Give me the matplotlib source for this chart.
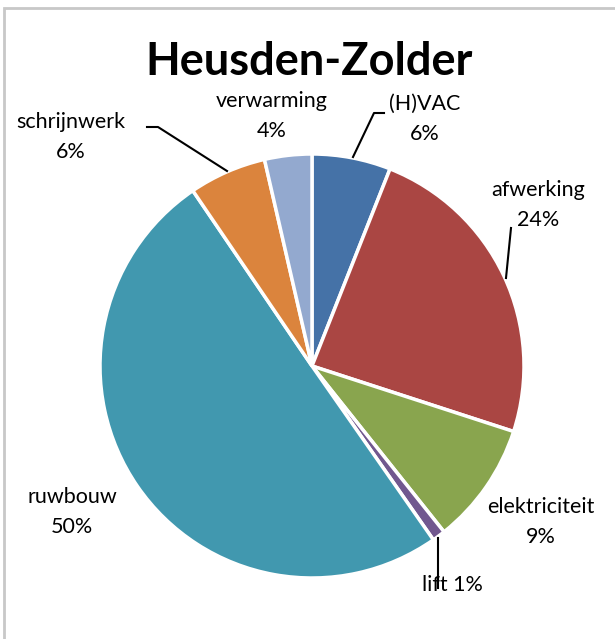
import matplotlib.pyplot as plt
from matplotlib.patches import Rectangle

plt.rcParams['font.family'] = ['Lato', 'DejaVu Sans']

# slices, clockwise from 12 o'clock
categories = ['(H)VAC', 'afwerking', 'elektriciteit', 'lift', 'ruwbouw', 'schrijnwerk', 'verwarming']
values = [6.0, 24.0, 9.3, 1.0, 50.2, 5.9, 3.6]
pct_labels = ['6%', '24%', '9%', '1%', '50%', '6%', '4%']
colors = ['#4572A7', '#AA4643', '#89A54E', '#71588F', '#4198AF', '#DB843D', '#93A9CF']

W, H = 615, 639
fig = plt.figure(figsize=(W / 100, H / 100), dpi=100)
ax = fig.add_axes([0, 0, 1, 1])


def py(y):
    # pixel row from top -> data y
    return H - y


# chart frame (cut off on the right and bottom)
ax.add_patch(Rectangle((3.5, -50), 700, py(7.5) + 50, fill=False,
                       edgecolor='#c8c8c8', linewidth=2))

cx, cy, r = 312, py(366), 212
ax.pie(values, colors=colors, startangle=90, counterclock=False,
       center=(cx, cy), radius=r, frame=True,
       wedgeprops=dict(edgecolor='white', linewidth=2.5))
ax.set_xlim(0, W)
ax.set_ylim(0, H)
ax.set_aspect('equal')
ax.axis('off')

ax.text(309, py(62), 'Heusden-Zolder', ha='center', va='center',
        fontsize=32.5, fontweight='bold')

# label positions (pixel centers)
label_pos = [(425, 119), (538, 205), (541, 522), (452, 585), (72, 512), (71, 137), (272, 116)]
for cat, pct, (x, y) in zip(categories, pct_labels, label_pos):
    if cat == 'lift':
        txt = f'{cat} {pct}'
    else:
        txt = f'{cat}\n{pct}'
    ax.text(x, py(y), txt, ha='center', va='center', fontsize=15.5,
            linespacing=1.6, color='#000000')

# leader lines
leaders = [
    [(353, 157), (374, 113), (384, 113)],
    [(506, 278), (511, 228)],
    [(438, 538), (438, 588)],
    [(227, 171), (158, 127), (147, 127)],
]
for pts in leaders:
    ax.plot([p[0] for p in pts], [py(p[1]) for p in pts], color='black', lw=1.5)

fig.savefig('out.png', dpi=100)
